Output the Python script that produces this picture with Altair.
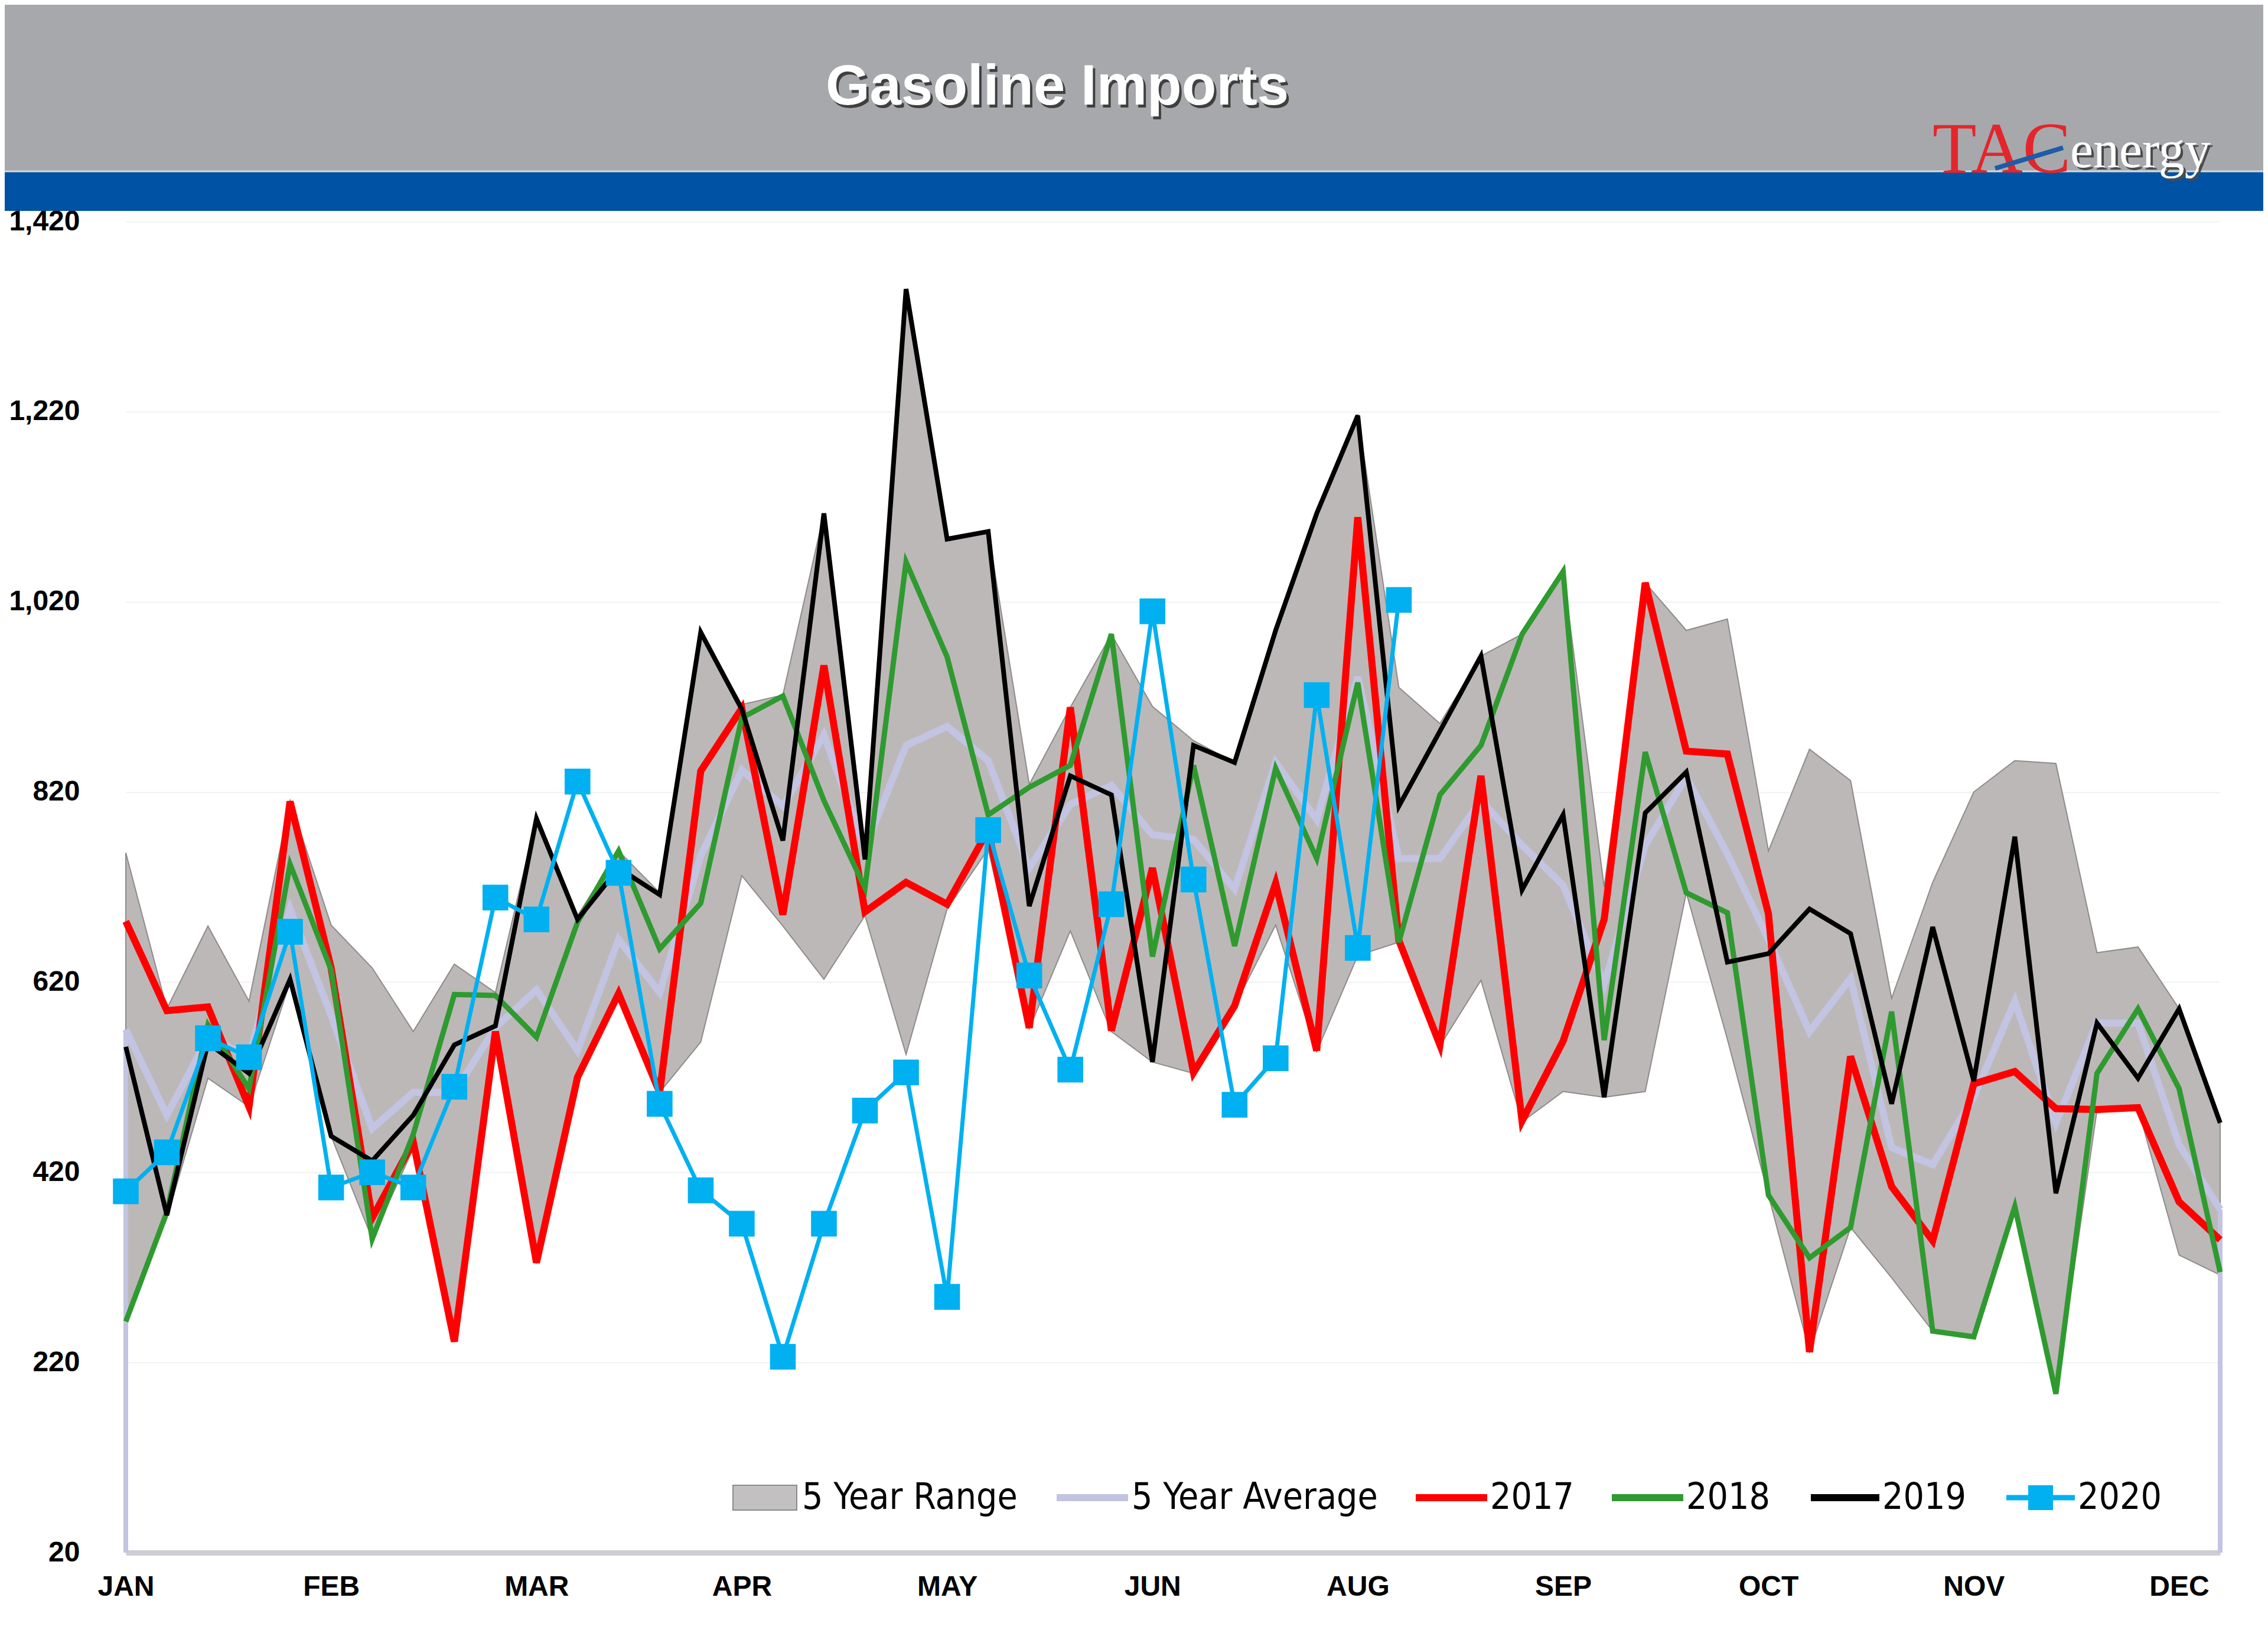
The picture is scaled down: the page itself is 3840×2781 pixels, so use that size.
import altair as alt
import pandas as pd

# ---------------- data ----------------
weeks = list(range(52))
month_labels = ["JAN", "FEB", "MAR", "APR", "MAY", "JUN", "AUG", "SEP", "OCT", "NOV", "DEC"]
y_ticks = [20, 220, 420, 620, 820, 1020, 1220, 1420]

range_upper = [756, 592, 679, 600, 811, 680, 635, 568, 639, 609, 793, 690, 758, 714, 988, 912,
               922, 1113, 749, 1349, 1086, 1094, 828, 909, 986, 910, 874, 851, 990, 1113, 1216, 930,
               892, 963, 986, 1052, 720, 1040, 990, 1002, 758, 865, 832, 603, 725, 820, 853, 850,
               651, 657, 592, 472]
range_lower = [263, 372, 519, 489, 620, 458, 350, 445, 242, 568, 324, 519, 606, 504, 557, 732,
               679, 623, 690, 544, 697, 760, 571, 674, 568, 536, 524, 595, 680, 547, 648, 662,
               553, 622, 473, 505, 499, 505, 714, 560, 396, 231, 362, 309, 253, 247, 384, 187,
               485, 487, 333, 312]
avg_5yr = [570, 480, 562, 542, 697, 585, 466, 504, 504, 572, 612, 548, 665, 609, 753, 843,
           805, 880, 761, 869, 889, 853, 740, 807, 827, 775, 770, 718, 851, 791, 941, 750,
           750, 811, 764, 722, 618, 764, 836, 755, 665, 568, 624, 446, 428, 499, 600, 472,
           577, 577, 449, 381]
y2017 = [684, 590, 594, 489, 810, 635, 372, 452, 242, 568, 325, 520, 608, 504, 842, 908,
         691, 953, 694, 725, 702, 780, 572, 909, 569, 740, 525, 595, 724, 548, 1109, 664,
         554, 837, 474, 558, 686, 1040, 863, 860, 692, 231, 542, 405, 348, 513, 526, 487,
         486, 488, 389, 349]
y2018 = [263, 378, 575, 508, 744, 633, 350, 460, 607, 606, 562, 683, 758, 655, 703, 898,
         921, 811, 719, 1062, 962, 796, 825, 848, 986, 647, 848, 658, 845, 750, 935, 662,
         817, 869, 986, 1052, 559, 862, 714, 693, 396, 330, 362, 589, 253, 247, 384, 187,
         524, 592, 508, 315]
y2019 = [552, 375, 556, 524, 623, 458, 432, 480, 554, 574, 792, 686, 740, 712, 988, 907,
         769, 1113, 749, 1349, 1086, 1094, 700, 837, 817, 536, 869, 851, 990, 1113, 1216, 805,
         884, 963, 717, 796, 499, 798, 841, 641, 650, 697, 671, 492, 678, 516, 773, 398,
         577, 519, 592, 472]
y2020 = [400, 441, 561, 541, 673, 404, 420, 404, 510, 709, 686, 831, 735, 492, 401, 366,
         226, 366, 485, 525, 289, 780, 627, 528, 702, 1010, 728, 491, 540, 922, 656, 1022]

title_text = "Gasoline Imports"
legend_labels = ["5 Year Range", "5 Year Average", "2017", "2018", "2019", "2020"]

# ---------------- styles / layout ----------------
W, H = 3546, 2253
PAD = {"left": 205, "top": 367, "right": 73, "bottom": 140}
Y_MIN, Y_MAX = 20, 1420
C_RANGE, C_RANGE_EDGE = "#BCB8B8", "#8F8B8B"
C_AVG = "#C3C3E2"
C_2017, C_2018, C_2019, C_2020 = "#FF0000", "#2F9A2F", "#000000", "#00B0F0"
AXIS_FONT = "Liberation Sans"
LEG_FONT = "Liberation Sans Narrow, DejaVu Sans Condensed, Arial Narrow, sans-serif"

label_expr_x = "[" + ",".join("'%s'" % m for m in month_labels) + "][round(datum.value/5)]"
label_expr_y = "format(datum.value, ',')"

x_enc = alt.X(
    "week:Q",
    scale=alt.Scale(domain=[0, 51], nice=False, zero=False),
    axis=alt.Axis(values=list(range(0, 51, 5)), labelExpr=label_expr_x, title=None, grid=False,
                  ticks=False, labelFont=AXIS_FONT, labelFontSize=48, labelFontWeight="bold",
                  labelColor="#000000", labelPadding=34, domainColor="#CDCDD3", domainWidth=9,
                  labelFlush=False),
)

y_axis = alt.Axis(values=y_ticks, labelExpr=label_expr_y, title=None, grid=True,
                  gridColor="#F1F1F1", gridWidth=2, ticks=False, domain=False,
                  labelFont=AXIS_FONT, labelFontSize=48, labelFontWeight="bold",
                  labelColor="#000000", labelPadding=78)
y_scale = alt.Scale(domain=[Y_MIN, Y_MAX], nice=False, zero=False)


def y_enc(field):
    return alt.Y(field + ":Q", scale=y_scale, axis=y_axis)


df_range = pd.DataFrame({"week": weeks, "upper": range_upper, "lower": range_lower})
area = alt.Chart(df_range).mark_area(color=C_RANGE, stroke=C_RANGE_EDGE, strokeWidth=2,
                                     opacity=1).encode(x=x_enc, y=y_enc("upper"), y2="lower:Q")

df_avg = pd.DataFrame({"week": weeks, "value": avg_5yr})
avg_line = alt.Chart(df_avg).mark_line(color=C_AVG, strokeWidth=12).encode(x=x_enc, y=y_enc("value"))

df_ends = pd.DataFrame({"week": [weeks[0], weeks[-1]], "value": [avg_5yr[0], avg_5yr[-1]],
                        "base": [Y_MIN, Y_MIN]})
end_rules = alt.Chart(df_ends).mark_rule(color=C_AVG, strokeWidth=8).encode(
    x=x_enc, y=y_enc("value"), y2="base:Q")


def line(values, color, width):
    d = pd.DataFrame({"week": weeks[:len(values)], "value": values})
    return alt.Chart(d).mark_line(color=color, strokeWidth=width).encode(x=x_enc, y=y_enc("value"))


l2017 = line(y2017, C_2017, 12)
l2018 = line(y2018, C_2018, 9)
l2019 = line(y2019, C_2019, 8)
d2020 = pd.DataFrame({"week": weeks[:len(y2020)], "value": y2020})
l2020 = alt.Chart(d2020).mark_line(
    color=C_2020, strokeWidth=7,
    point=alt.OverlayMarkDef(shape="square", size=1900, filled=True, color=C_2020, opacity=1),
).encode(x=x_enc, y=y_enc("value"))

one = pd.DataFrame({"k": [0]})


def px_text(txt, x, y, size, color, font, weight="normal", align="left", baseline="middle"):
    return alt.Chart(one).mark_text(text=txt, fontSize=size, color=color, font=font,
                                    fontWeight=weight, align=align, baseline=baseline).encode(
        x=alt.value(x), y=alt.value(y))


def px_rect(x, x2, y, y2, fill, stroke=None, sw=0):
    kw = dict(color=fill, opacity=1)
    if stroke:
        kw.update(stroke=stroke, strokeWidth=sw)
    return alt.Chart(one).mark_rect(**kw).encode(
        x=alt.value(x), x2=alt.value(x2), y=alt.value(y), y2=alt.value(y2))


def px_rule(x, x2, y, y2, color, sw):
    return alt.Chart(one).mark_rule(color=color, strokeWidth=sw).encode(
        x=alt.value(x), x2=alt.value(x2), y=alt.value(y), y2=alt.value(y2))


# ---------------- legend (inside the plot, bottom) ----------------
LEG_Y = 2160
LEG_FS = 62
leg_layers = [
    px_rect(1028, 1136, LEG_Y - 21, LEG_Y + 21, "#C2C0C0", "#8A8A8A", 2),
    px_text(legend_labels[0], 1145, LEG_Y, LEG_FS, "#000000", LEG_FONT),
    px_rule(1576, 1697, LEG_Y, LEG_Y, C_AVG, 12),
    px_text(legend_labels[1], 1703, LEG_Y, LEG_FS, "#000000", LEG_FONT),
    px_rule(2184, 2305, LEG_Y, LEG_Y, C_2017, 12),
    px_text(legend_labels[2], 2310, LEG_Y, LEG_FS, "#000000", LEG_FONT),
    px_rule(2516, 2637, LEG_Y, LEG_Y, C_2018, 12),
    px_text(legend_labels[3], 2642, LEG_Y, LEG_FS, "#000000", LEG_FONT),
    px_rule(2853, 2969, LEG_Y, LEG_Y, C_2019, 12),
    px_text(legend_labels[4], 2974, LEG_Y, LEG_FS, "#000000", LEG_FONT),
    px_rule(3184, 3300, LEG_Y, LEG_Y, C_2020, 9),
    px_rect(3221, 3263, LEG_Y - 21, LEG_Y + 21, C_2020),
    px_text(legend_labels[5], 3305, LEG_Y, LEG_FS, "#000000", LEG_FONT),
]

# ---------------- header band, title and logo ----------------
header_layers = [
    px_rect(-205, 3619, -367, -85, "#A7A8AC"),
    px_rect(-205, 3619, -85, -18, "#0053A4"),
    px_rule(-205, 3619, -85, -85, "#D8D8DC", 3),
    px_text(title_text, 1581, -193, 96, "#3F3F3F", AXIS_FONT, "bold", "center", "alphabetic"),
    px_text(title_text, 1577, -198, 96, "#FFFFFF", AXIS_FONT, "bold", "center", "alphabetic"),
    px_text("TAC", 3059, -83, 122, "#E3262B", "Liberation Serif", "normal", "left", "alphabetic"),
    px_text("energy", 3296, -88, 88, "#4A4A4A", "Liberation Serif", "normal", "left", "alphabetic"),
    px_text("energy", 3292, -92, 88, "#FFFFFF", "Liberation Serif", "normal", "left", "alphabetic"),
    px_rule(3165, 3280, -90, -125, "#1E5BA8", 8),
]

chart = alt.layer(
    area, avg_line, end_rules, l2017, l2018, l2019, l2020, *leg_layers, *header_layers
).properties(
    width=W, height=H,
    autosize=alt.AutoSizeParams(type="none"),
    padding=PAD,
    background="#FFFFFF",
).configure_view(stroke=None)

chart.save("out.html", embed_options={"renderer": "svg", "actions": False})
